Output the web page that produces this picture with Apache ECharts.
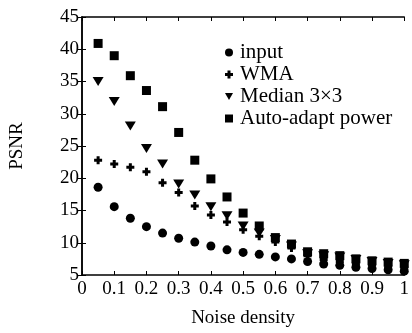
<!DOCTYPE html>
<html>
<head>
<meta charset="utf-8">
<script src="https://cdn.jsdelivr.net/npm/echarts@6/dist/echarts.min.js"></script>
<style>
  html, body { margin: 0; padding: 0; background: #fff; }
  #chart { width: 412px; height: 333px; }
</style>
</head>
<body>
<div id="chart"></div>
<script>
// noise density values
const noise = [0.05, 0.1, 0.15, 0.2, 0.25, 0.3, 0.35, 0.4, 0.45, 0.5,
  0.55, 0.6, 0.65, 0.7, 0.75, 0.8, 0.85, 0.9, 0.95, 1.0];

// PSNR per method
const inputPsnr = [18.6, 15.6, 13.8, 12.5, 11.5, 10.7, 10.1, 9.5, 8.9, 8.5,
  8.2, 7.8, 7.5, 7.1, 6.7, 6.5, 6.2, 6.0, 5.8, 5.6];
const wmaPsnr = [22.8, 22.2, 21.7, 21.0, 19.3, 17.8, 15.7, 14.3, 13.2, 12.0,
  11.0, 10.1, 9.2, 8.0, 7.4, 7.1, 6.8, 6.6, 6.3, 6.1];
const medianPsnr = [35.0, 31.9, 28.1, 24.6, 22.2, 19.1, 17.4, 15.6, 14.2, 12.6,
  11.5, 10.5, 9.5, 8.3, 8.0, 7.8, 7.4, 7.1, 6.8, 6.6];
const autoPsnr = [40.9, 39.0, 35.9, 33.6, 31.1, 27.1, 22.8, 19.9, 17.1, 14.6,
  12.6, 10.8, 9.8, 8.6, 8.3, 8.0, 7.5, 7.2, 7.0, 6.8];

const seriesNames = ["input", "WMA", "Median 3\u00d73", "Auto-adapt power"];

const FONT = "Liberation Serif";
const plusPath = "path://M2.5,0H5.5V2.5H8V5.5H5.5V8H2.5V5.5H0V2.5H2.5Z";
const downTriangle = "path://M0,0H10L5,9Z";

const pairs = (ys) => ys.map((y, i) => [noise[i], y]);

const chart = echarts.init(document.getElementById("chart"));

const axisLine = { show: true, lineStyle: { color: "#000", width: 1.5 } };
const tick = { inside: true, length: 4, lineStyle: { color: "#000" } };

chart.setOption({
  animation: false,
  grid: { left: 81, top: 17, right: 2, bottom: 57 },
  legend: {
    orient: "vertical",
    left: 220,
    top: 37,
    itemWidth: 8,
    itemHeight: 8,
    itemGap: 1,
    textStyle: { fontFamily: FONT, fontSize: 21, lineHeight: 20, color: "#000", padding: [0, 0, 0, 2] },
    data: seriesNames,
  },
  xAxis: [
    {
      type: "value",
      min: 0,
      max: 1,
      interval: 0.1,
      name: "Noise density",
      nameLocation: "middle",
      nameGap: 34,
      nameTextStyle: { fontFamily: FONT, fontSize: 19, color: "#000" },
      axisLine: axisLine,
      axisTick: tick,
      axisLabel: {
        fontFamily: FONT, fontSize: 19, color: "#000", margin: 5,
        formatter: (v) => String(Math.round(v * 10) / 10),
      },
      splitLine: { show: false },
    },
    {
      type: "value",
      position: "top",
      min: 0,
      max: 1,
      interval: 0.1,
      axisLine: axisLine,
      axisTick: tick,
      axisLabel: { show: false },
      splitLine: { show: false },
    },
  ],
  yAxis: [
    {
      type: "value",
      min: 5,
      max: 45,
      interval: 5,
      name: "PSNR",
      nameLocation: "middle",
      nameGap: 55,
      nameTextStyle: { fontFamily: FONT, fontSize: 19, color: "#000" },
      axisLine: axisLine,
      axisTick: tick,
      axisLabel: { fontFamily: FONT, fontSize: 19, color: "#000", margin: 3 },
      splitLine: { show: false },
    },
    {
      type: "value",
      position: "right",
      min: 5,
      max: 45,
      interval: 5,
      axisLine: axisLine,
      axisTick: tick,
      axisLabel: { show: false },
      splitLine: { show: false },
    },
  ],
  series: [
    {
      name: seriesNames[0], type: "scatter", symbol: "circle", symbolSize: 9,
      itemStyle: { color: "#000", opacity: 1 }, data: pairs(inputPsnr),
    },
    {
      name: seriesNames[1], type: "scatter", symbol: plusPath, symbolSize: 8,
      itemStyle: { color: "#000", opacity: 1 }, data: pairs(wmaPsnr),
    },
    {
      name: seriesNames[2], type: "scatter", symbol: downTriangle, symbolSize: [11, 9],
      itemStyle: { color: "#000", opacity: 1 }, data: pairs(medianPsnr),
    },
    {
      name: seriesNames[3], type: "scatter", symbol: "rect", symbolSize: 9,
      itemStyle: { color: "#000", opacity: 1 }, data: pairs(autoPsnr),
    },
  ],
});
</script>
</body>
</html>
